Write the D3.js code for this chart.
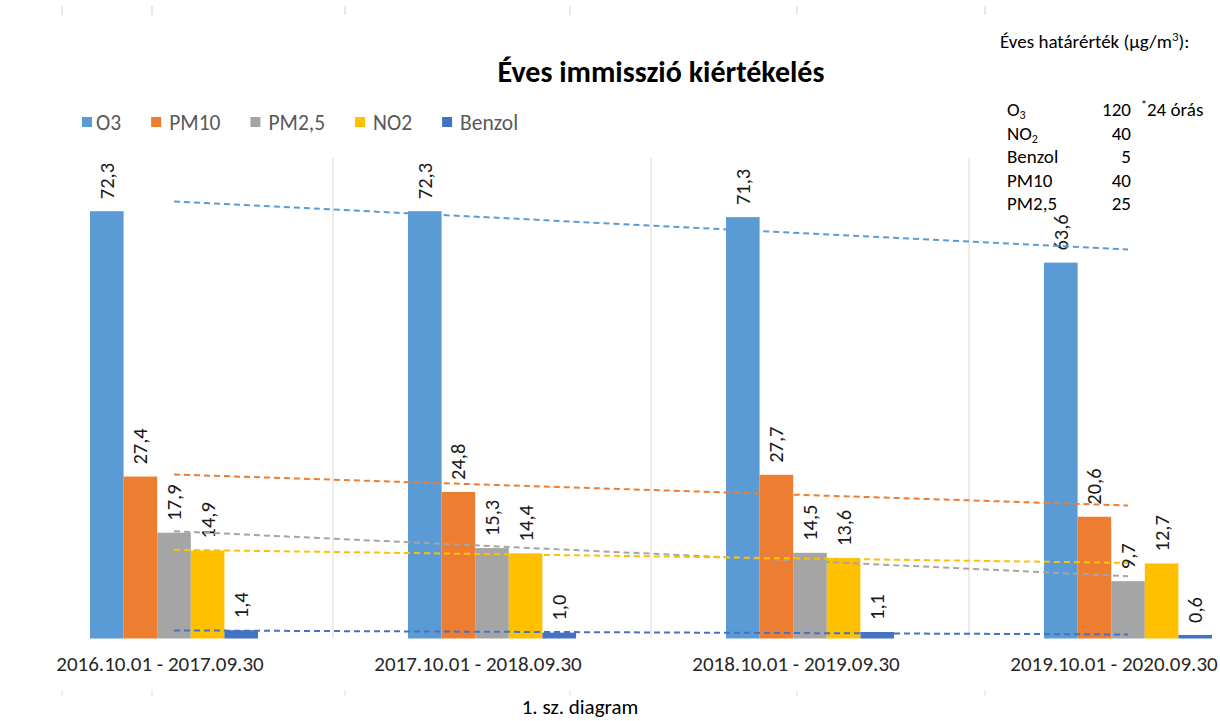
<!DOCTYPE html>
<html lang="hu">
<head>
<meta charset="UTF-8">
<title>Éves immisszió kiértékelés</title>
<style>
  body { margin: 0; background: #ffffff; }
  svg { display: block; }
  text { font-family: Carlito, Lato, "Open Sans", sans-serif; }
</style>
<script src="https://d3js.org/d3.v7.min.js"></script>
</head>
<body>
<svg width="1220" height="721"></svg>
<script>
const periods = ["2016.10.01 - 2017.09.30", "2017.10.01 - 2018.09.30", "2018.10.01 - 2019.09.30", "2019.10.01 - 2020.09.30"];
const seriesNames = ["O3", "PM10", "PM2,5", "NO2", "Benzol"];
const o3 = [72.3, 72.3, 71.3, 63.6];
const pm10 = [27.4, 24.8, 27.7, 20.6];
const pm25 = [17.9, 15.3, 14.5, 9.7];
const no2 = [14.9, 14.4, 13.6, 12.7];
const benzol = [1.4, 1.0, 1.1, 0.6];
const seriesValues = [o3, pm10, pm25, no2, benzol];
const colors = ["#5B9BD5", "#ED7D31", "#A5A5A5", "#FFC000", "#4472C4"];

const limitTitle = "Éves határérték (µg/m";
const limitNames = ["O3", "NO2", "Benzol", "PM10", "PM2,5"];
const limitValues = [120, 40, 5, 40, 25];
const limitNote = "24 órás";

const svg = d3.select("svg");
const baseY = 638.5;

const x0 = d3.scaleBand().domain(periods).range([15, 1287]);
const groupW = 168;
const x1 = d3.scaleBand().domain(seriesNames).range([0, groupW]);
const y = d3.scaleLinear().domain([0, 80]).range([baseY, baseY - 80 * 5.91]);
const center = p => x0(p) + x0.bandwidth() / 2;
const fmt = v => d3.format(".1f")(v).replace(".", ",");

// ruler marks of the page
const rulerX = [62, 152, 345, 570, 797, 985];
svg.append("g").selectAll("line").data(rulerX).join("line")
  .attr("x1", d => d).attr("x2", d => d).attr("y1", 6).attr("y2", 15)
  .attr("stroke", "#d8d8d8").attr("stroke-width", 1.2);
svg.append("g").selectAll("line").data(rulerX).join("line")
  .attr("x1", d => d).attr("x2", d => d).attr("y1", 690).attr("y2", 696)
  .attr("stroke", "#e4e4e4").attr("stroke-width", 1.2);

// vertical gridlines between categories
svg.append("g").selectAll("line").data(periods.slice(1)).join("line")
  .attr("x1", d => x0(d)).attr("x2", d => x0(d))
  .attr("y1", 158).attr("y2", baseY)
  .attr("stroke", "#d9d9d9").attr("stroke-width", 1);

// bars
const groups = svg.append("g").selectAll("g").data(periods).join("g")
  .attr("transform", p => `translate(${x0(p) + (x0.bandwidth() - groupW) / 2},0)`);

groups.selectAll("rect")
  .data((p, i) => seriesNames.map((s, k) => ({ s, k, v: seriesValues[k][i] })))
  .join("rect")
  .attr("x", d => x1(d.s))
  .attr("width", x1.bandwidth())
  .attr("y", d => y(d.v))
  .attr("height", d => baseY - y(d.v))
  .attr("fill", d => colors[d.k]);

// linear trendlines
const xi = d3.scaleLinear().domain([1, periods.length]).range([center(periods[0]), center(periods[periods.length - 1])]);
seriesValues.forEach((vals, k) => {
  const n = vals.length;
  const xs = vals.map((v, i) => i + 1);
  const mx = d3.mean(xs), my = d3.mean(vals);
  const slope = d3.sum(xs, (xv, i) => (xv - mx) * (vals[i] - my)) / d3.sum(xs, xv => (xv - mx) ** 2);
  const icpt = my - slope * mx;
  svg.append("line")
    .attr("x1", xi(1)).attr("y1", y(icpt + slope))
    .attr("x2", xi(n)).attr("y2", y(icpt + slope * n))
    .attr("stroke", colors[k]).attr("stroke-width", 2)
    .attr("stroke-dasharray", "6,4");
});

// data labels
groups.selectAll("text.lbl")
  .data((p, i) => seriesNames.map((s, k) => ({ s, k, v: seriesValues[k][i] })))
  .join("text")
  .attr("class", "lbl")
  .attr("transform", d => `translate(${x1(d.s) + x1.bandwidth() / 2 + 7},${y(d.v) - 12}) rotate(-90)`)
  .attr("font-size", 20.5)
  .attr("fill", "#1a1a1a")
  .text(d => fmt(d.v));

// category labels
svg.append("g").selectAll("text").data(periods).join("text")
  .attr("x", p => center(p) - 14)
  .attr("y", 671)
  .attr("text-anchor", "middle")
  .attr("font-size", 21)
  .attr("fill", "#262626")
  .text(p => p);

// title
svg.append("text")
  .attr("x", 661).attr("y", 82)
  .attr("text-anchor", "middle")
  .attr("font-size", 30)
  .attr("font-weight", "bold")
  .attr("fill", "#000")
  .text("Éves immisszió kiértékelés");

// legend
const legend = svg.append("g").attr("transform", "translate(82,122)");
let lx = 0;
seriesNames.forEach((s, k) => {
  const g = legend.append("g").attr("transform", `translate(${lx},0)`);
  g.append("rect").attr("x", 0).attr("y", -5).attr("width", 10).attr("height", 10).attr("fill", colors[k]);
  const off = k === 0 ? 14 : 18;
  const t = g.append("text").attr("x", off).attr("y", 7.5)
    .attr("font-size", 21.5).attr("fill", "#595959").text(s);
  lx += off + t.node().getComputedTextLength() + 30;
});

// limit value box
const fs = 19;
const box = svg.append("g").attr("transform", "translate(1000,0)");
box.append("text").attr("x", 0).attr("y", 48).attr("font-size", fs).attr("fill", "#000")
  .call(t => {
    t.append("tspan").text(limitTitle);
    t.append("tspan").attr("dy", -7).attr("font-size", 13).text("3");
    t.append("tspan").attr("dy", 7).text("):");
  });
limitNames.forEach((nm, i) => {
  const yy = 116 + i * 23.5;
  const t = box.append("text").attr("x", 7).attr("y", yy).attr("font-size", fs).attr("fill", "#000");
  const m = nm.match(/^(O|NO)(\d)$/);
  if (m) {
    t.append("tspan").text(m[1]);
    t.append("tspan").attr("dy", 3).attr("font-size", 12).text(m[2]);
  } else {
    t.text(nm);
  }
  box.append("text").attr("x", 131).attr("y", yy).attr("text-anchor", "end")
    .attr("font-size", fs).attr("fill", "#000").text(limitValues[i]);
});
box.append("text").attr("x", 141).attr("y", 116).attr("font-size", fs).attr("fill", "#000")
  .call(t => {
    t.append("tspan").attr("dy", -7).attr("font-size", 12).text("*");
    t.append("tspan").attr("dy", 7).text(limitNote);
  });

// caption
svg.append("text")
  .attr("x", 580).attr("y", 714)
  .attr("text-anchor", "middle")
  .attr("font-size", 21)
  .attr("font-family", "'Open Sans', 'Liberation Sans', sans-serif")
  .attr("fill", "#000")
  .text("1. sz. diagram");
</script>
</body>
</html>
